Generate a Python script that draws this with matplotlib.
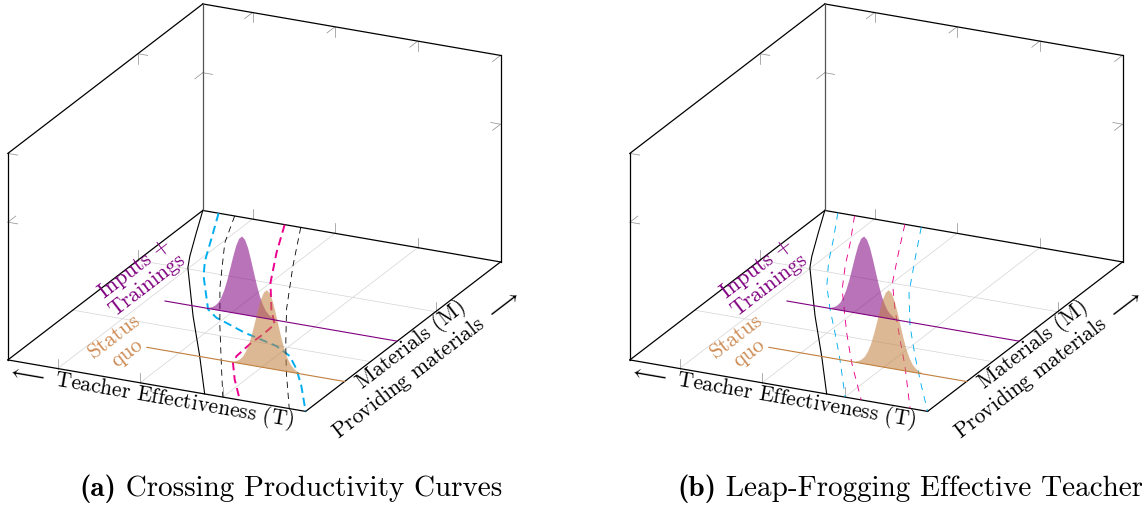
import numpy as np
import matplotlib
matplotlib.use("Agg")
import matplotlib.pyplot as plt
from mpl_toolkits.mplot3d.art3d import Poly3DCollection

plt.rcParams['font.family'] = 'cmr10'
plt.rcParams['mathtext.fontset'] = 'cm'
plt.rcParams['lines.scale_dashes'] = False

# every value is a fraction of its axis: T = teacher effectiveness (x),
# M = materials (y), density (z)
t_ticks = [0.167, 0.444, 0.722, 1.0]
m_grid = [0.333, 0.667]
m_ticks = [0.0, 0.667]
z_ticks = [0.667]

# density of teachers, offset from the centre of each group
dens_offset = [-0.11, -0.10, -0.09, -0.08, -0.07, -0.06, -0.05, -0.04, -0.03, -0.02, -0.01, 0.0,
               0.01, 0.02, 0.03, 0.04, 0.05, 0.06, 0.07, 0.08, 0.09, 0.10, 0.11]
dens_height = [0.005, 0.010, 0.020, 0.036, 0.063, 0.101, 0.151, 0.210, 0.271, 0.326, 0.363, 0.377,
               0.363, 0.326, 0.271, 0.210, 0.151, 0.101, 0.063, 0.036, 0.020, 0.010, 0.005]
inputs_t, inputs_m = 0.479, 0.47
status_t, status_m = 0.739, 0.20
inputs_line = [0.22, 1.0]
status_line = [0.336, 1.0]

# productivity curves on the floor (T along M)
base_t = [0.0, 0.062, 0.128, 0.164, 0.351, 0.512, 0.661]
base_m = [1.0, 0.872, 0.738, 0.673, 0.414, 0.202, 0.0]

# (a) crossing
cyan_a_t = [0.053, 0.108, 0.187, 0.237, 0.368, 0.421, 0.451, 0.552, 0.587, 0.687, 0.759, 0.825, 0.898, 1.0]
cyan_a_m = [1.0, 0.888, 0.725, 0.642, 0.465, 0.427, 0.415, 0.372, 0.361, 0.329, 0.287, 0.221, 0.134, 0.0]
pink_a_t = [0.275, 0.353, 0.444, 0.542, 0.604, 0.608, 0.606, 0.613, 0.627, 0.691, 0.779]
pink_a_m = [1.0, 0.839, 0.669, 0.524, 0.446, 0.380, 0.324, 0.237, 0.197, 0.108, 0.0]
black1_t = [0.107, 0.176, 0.322, 0.460, 0.595, 0.722]
black1_m = [1.0, 0.844, 0.596, 0.385, 0.186, 0.0]
black2_t = [0.329, 0.446, 0.583, 0.712, 0.809, 0.945]
black2_m = [1.0, 0.781, 0.539, 0.338, 0.193, 0.0]

# (b) leap-frogging
cyan_b1_t = [0.044, 0.127, 0.197, 0.276, 0.368, 0.465, 0.574, 0.723]
cyan_b1_m = [1.0, 0.850, 0.718, 0.589, 0.465, 0.342, 0.201, 0.0]
pink_b1_t = [0.100, 0.185, 0.255, 0.330, 0.497, 0.618, 0.777]
pink_b1_m = [1.0, 0.848, 0.715, 0.585, 0.353, 0.194, 0.0]
pink_b2_t = [0.269, 0.353, 0.444, 0.546, 0.667, 0.776, 0.941]
pink_b2_m = [1.0, 0.839, 0.669, 0.526, 0.367, 0.226, 0.0]
cyan_b2_t = [0.324, 0.422, 0.525, 0.647, 0.768, 0.893, 1.0]
cyan_b2_m = [1.0, 0.818, 0.630, 0.449, 0.290, 0.132, 0.0]

caption_tags = ['(a)', '(b)']
caption_texts = ['Crossing Productivity Curves', 'Leap-Frogging Effective Teacher']

PURPLE = '#800080'
TAN = '#C27F3D'
TAN_TXT = '#CD8C55'
CYAN = '#00AEEF'
PINK = '#EC008C'

thick = dict(lw=1.4, ls=(0, (6, 3.5)), zorder=3)
thin_black = dict(color='k', lw=0.6, ls=(0, (4.5, 3.5)), zorder=3)
thin = dict(lw=0.65, ls=(0, (5, 4.5)), zorder=3)

panel_a = [(base_t, base_m, dict(color='k', lw=0.8, zorder=3)),
           (cyan_a_t, cyan_a_m, dict(color=CYAN, **thick)),
           (black1_t, black1_m, thin_black),
           (pink_a_t, pink_a_m, dict(color=PINK, **thick)),
           (black2_t, black2_m, thin_black)]
panel_b = [(base_t, base_m, dict(color='k', lw=0.8, zorder=3)),
           (cyan_b1_t, cyan_b1_m, dict(color=CYAN, **thin)),
           (pink_b1_t, pink_b1_m, dict(color=PINK, **thin)),
           (pink_b2_t, pink_b2_m, dict(color=PINK, **thin)),
           (cyan_b2_t, cyan_b2_m, dict(color=CYAN, **thin))]

# where the box corners sit in the picture (pixels), used to place the axes
corners = [(0, 0, 0), (0, 1, 0), (1, 1, 0), (1, 0, 0), (0, 0, 1), (0, 1, 1), (1, 1, 1)]
corner_px = [(8, 360.5), (203, 211), (500, 261), (306, 412), (8, 154), (203, 4), (500, 54)]
panel_shift = [0, 622]
caption_x = [79, 677]
caption_base = 496


def seg(ax, p, q, **kw):
    ax.plot([p[0], q[0]], [p[1], q[1]], [p[2], q[2]], **kw)


def density(ax, t0, m0, line, color):
    xs = [t0 + d for d in dens_offset]
    verts = [(x, m0, z) for x, z in zip(xs, dens_height)]
    verts += [(xs[-1], m0, 0), (xs[0], m0, 0)]
    ax.add_collection3d(Poly3DCollection([verts], facecolor=color, edgecolor='none',
                                         alpha=0.55, zorder=4))
    ax.plot(line, [m0, m0], [0, 0], color=color, lw=0.8, zorder=5)


def draw_panel(ax, curves):
    ax.set_axis_off()
    ax.set_facecolor('none')
    ax.title.set_visible(False)
    for axis in (ax.xaxis, ax.yaxis, ax.zaxis):
        axis.label.set_visible(False)
        axis.offsetText.set_visible(False)
    ax.set_xlim(0, 1)
    ax.set_ylim(0, 1)
    ax.set_zlim(0, 1)
    # zoomed in so the (square) axes stays inside the figure; nothing is clipped
    ax.set_box_aspect((330, 455, 222), zoom=2.0)
    ax.set_proj_type('ortho')
    ax.view_init(elev=21.35, azim=-64.6)

    grid = dict(color='#d4d4d4', lw=0.5, zorder=1)
    for t in t_ticks[:-1]:
        seg(ax, (t, 0, 0), (t, 1, 0), **grid)
    for m in m_grid:
        seg(ax, (0, m, 0), (1, m, 0), **grid)

    tk = dict(color='#8c8c8c', lw=0.5, zorder=1.5)
    tz, tx, ty = 0.048, 0.033, 0.041
    for t in t_ticks:
        if t < 1:
            seg(ax, (t, 0, 0), (t, 0, tz), **tk)
            seg(ax, (t, 1, 0), (t, 1, tz), **tk)
        seg(ax, (t, 1, 1), (t, 1, 1 - tz), **tk)
        seg(ax, (t, 1, 1), (t, 1 - ty, 1), **tk)
    for m in m_ticks:
        if m > 0:
            seg(ax, (0, m, 0), (0, m, tz), **tk)
            seg(ax, (1, m, 0), (1, m, tz), **tk)
        seg(ax, (0, m, 1), (0, m, 1 - tz), **tk)
        seg(ax, (0, m, 1), (tx, m, 1), **tk)
    for z in z_ticks:
        seg(ax, (0, 0, z), (tx, 0, z), **tk)
        seg(ax, (0, 0, z), (0, ty, z), **tk)
        seg(ax, (0, 1, z), (tx, 1, z), **tk)
        seg(ax, (0, 1, z), (0, 1 - ty, z), **tk)
        seg(ax, (1, 1, z), (1 - tx, 1, z), **tk)
        seg(ax, (1, 1, z), (1, 1 - ty, z), **tk)

    box = dict(color='k', lw=0.9, zorder=2)
    for p, q in [((0, 0, 0), (1, 0, 0)), ((0, 0, 0), (0, 1, 0)), ((0, 1, 0), (1, 1, 0)),
                 ((1, 0, 0), (1, 1, 0)), ((0, 0, 0), (0, 0, 1)), ((1, 1, 0), (1, 1, 1)),
                 ((0, 0, 1), (0, 1, 1)), ((0, 1, 1), (1, 1, 1))]:
        seg(ax, p, q, **box)
    seg(ax, (0, 1, 0), (0, 1, 1), color='#555555', lw=0.9, zorder=2)

    for ts, ms, style in curves:
        ax.plot(ts, ms, np.zeros(len(ts)), **style)

    density(ax, inputs_t, inputs_m, inputs_line, PURPLE)
    density(ax, status_t, status_m, status_line, TAN)

    for artist in list(ax.lines) + list(ax.collections):
        artist.set_clip_on(False)

    # zdir makes each label follow the projected direction of its axis
    lab = dict(fontsize=15.5, rotation_mode='anchor', ha='center', va='center',
               multialignment='center', linespacing=1.05, zorder=8)
    ax.text(0.48, 0, -0.059, r'$\longleftarrow$ Teacher Effectiveness (T)', zdir='x', **lab)
    ax.text(1.106, 0.418, 0, 'Materials (M)\nProviding materials $\\longrightarrow$',
            zdir='y', **lab)
    ax.text(0.066, 0.581, 0, 'Inputs +\nTrainings', zdir='y', color=PURPLE, **lab)
    ax.text(0.254, 0.191, 0, 'Status\nquo', zdir='y', color=TAN_TXT, **lab)


def place(fig, ax, shift):
    # scale and move the (square) axes so the projected box lands on corner_px
    W, H = fig.bbox.width, fig.bbox.height
    pts = np.array(corners, float)
    v = ax.M @ np.vstack([pts.T, np.ones(len(pts))])
    disp = ax.transData.transform(np.column_stack([v[0] / v[3], v[1] / v[3]]))
    bb = ax.get_position()
    L, B0, S = bb.x0 * W, bb.y0 * H, bb.width * W
    r = (disp - [L, B0]) / S
    q = np.array(corner_px, float)
    q[:, 0] += shift
    q[:, 1] = H - q[:, 1]
    n = len(q)
    A = np.zeros((2 * n, 3))
    A[:n, 0], A[:n, 1] = r[:, 0], 1
    A[n:, 0], A[n:, 2] = r[:, 1], 1
    rhs = np.concatenate([q[:, 0], q[:, 1]])
    S2, L2, B2 = np.linalg.lstsq(A, rhs, rcond=None)[0]
    ax.set_position([L2 / W, B2 / H, S2 / W, S2 / H])


fig = plt.figure(figsize=(11.42, 5.15), dpi=100)
W, H = fig.bbox.width, fig.bbox.height
axes = []
for i, curves in enumerate([panel_a, panel_b]):
    ax = fig.add_axes([0.02 + 0.5 * i, 0.05, 0.46, 0.9], projection='3d', computed_zorder=False)
    draw_panel(ax, curves)
    axes.append(ax)

# captions: bold tag, then the title on the same baseline
tags = [fig.text(x0 / W, 1 - caption_base / H, tag, family='cmb10', fontsize=21,
                 ha='left', va='baseline') for x0, tag in zip(caption_x, caption_tags)]

fig.canvas.draw()
for ax, shift in zip(axes, panel_shift):
    place(fig, ax, shift)

renderer = fig.canvas.get_renderer()
for t1, title in zip(tags, caption_texts):
    ext = t1.get_window_extent(renderer)
    fig.text(ext.x1 / W, 1 - caption_base / H, ' ' + title, fontsize=21,
             ha='left', va='baseline')

fig.savefig('out.png', dpi=100)
